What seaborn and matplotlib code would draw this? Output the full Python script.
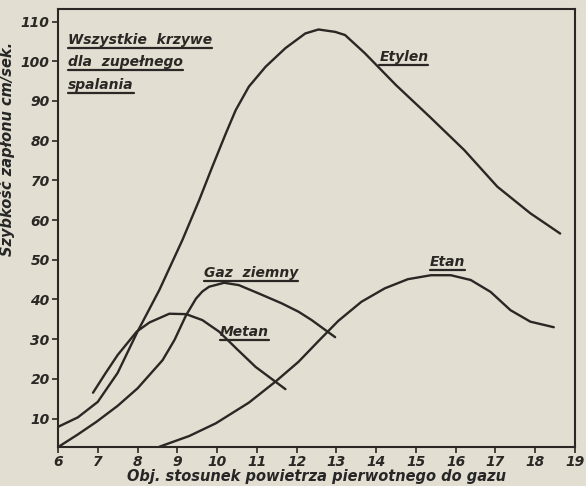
import matplotlib
matplotlib.use("Agg")
import matplotlib.pyplot as plt
import matplotlib.lines as mlines
import seaborn as sns
import pandas as pd

# ---- data ----
etylen_x = [6.0, 6.5, 7.0, 7.5, 8.0, 8.55, 9.13, 9.55, 9.88, 10.22, 10.47, 10.8, 11.22, 11.72, 12.22, 12.55, 12.97, 13.22, 13.72, 14.5, 15.35, 16.22, 17.05, 17.88, 18.63]
etylen_y = [7.9, 10.3, 14.2, 21.5, 31.9, 42.4, 55.0, 65.0, 73.4, 81.8, 87.7, 93.6, 98.6, 103.3, 107.0, 108.0, 107.4, 106.6, 102.0, 94.0, 86.0, 77.6, 68.4, 61.7, 56.6]

metan_x = [6.88, 7.2, 7.5, 7.98, 8.3, 8.8, 9.22, 9.63, 10.05, 10.5, 10.97, 11.72]
metan_y = [16.5, 21.5, 26.0, 31.9, 34.2, 36.4, 36.3, 34.8, 31.9, 27.5, 23.0, 17.4]

gaz_x = [6.0, 6.5, 6.97, 7.5, 8.0, 8.63, 8.93, 9.22, 9.47, 9.63, 9.8, 10.18, 10.55, 11.05, 11.63, 12.05, 12.38, 12.97]
gaz_y = [2.8, 6.0, 9.2, 13.2, 17.6, 24.7, 29.8, 36.0, 40.2, 42.0, 43.2, 44.2, 43.6, 41.5, 39.0, 36.9, 34.8, 30.5]

etan_x = [8.55, 9.3, 9.97, 10.8, 11.47, 12.05, 12.55, 13.05, 13.63, 14.22, 14.8, 15.38, 15.88, 16.38, 16.88, 17.38, 17.88, 18.47]
etan_y = [2.9, 5.6, 8.8, 14.0, 19.3, 24.3, 29.5, 34.6, 39.4, 42.8, 45.1, 46.1, 46.1, 44.9, 41.9, 37.3, 34.4, 33.0]

series_names = ["Etylen", "Metan", "Gaz ziemny", "Etan"]
x_ticks = list(range(6, 20))
y_ticks = list(range(10, 120, 10))

x_label = "Obj. stosunek powietrza pierwotnego do gazu"
y_label = "Szybkość zapłonu cm/sek."
note_lines = ["Wszystkie  krzywe", "dla  zupełnego", "spalania"]

# ---- build long table ----
frames = []
for name, xs, ys in zip(series_names,
                        [etylen_x, metan_x, gaz_x, etan_x],
                        [etylen_y, metan_y, gaz_y, etan_y]):
    frames.append(pd.DataFrame({"x": xs, "y": ys, "gas": name}))
df = pd.concat(frames, ignore_index=True)

# ---- style ----
sns.set_theme(style="ticks")
paper = "#e2ded1"
ink = "#2a2724"
plt.rcParams["font.family"] = ["DejaVu Sans"]
plt.rcParams["text.color"] = ink
plt.rcParams["axes.edgecolor"] = ink
plt.rcParams["xtick.color"] = ink
plt.rcParams["ytick.color"] = ink

fig = plt.figure(figsize=(5.86, 4.86), dpi=100, facecolor=paper)
ax = fig.add_axes([0.099, 0.080, 0.882, 0.901])
ax.set_facecolor(paper)

sns.lineplot(data=df, x="x", y="y", hue="gas", units="gas", estimator=None,
             sort=False, palette={n: ink for n in series_names},
             linewidth=1.7, legend=False, ax=ax)
for ln in ax.get_lines():
    ln.set_solid_joinstyle("round")
    ln.set_solid_capstyle("round")

ax.set_xlim(6, 19)
ax.set_ylim(2.8, 113.1)
ax.set_xticks(x_ticks)
ax.set_yticks(y_ticks)
tick_font = dict(fontsize=10, fontstyle="italic", fontweight="bold")
ax.set_xticklabels([str(t) for t in x_ticks], **tick_font)
ax.set_yticklabels([str(t) for t in y_ticks], **tick_font)
ax.tick_params(axis="both", direction="out", length=4, width=1.2, pad=2)
for s in ax.spines.values():
    s.set_linewidth(1.5)
    s.set_visible(True)

ax.set_xlabel(x_label, fontsize=10.5, fontstyle="italic", fontweight="bold", labelpad=0)
ax.set_ylabel(y_label, fontsize=10.5, fontstyle="italic", fontweight="bold")
ax.yaxis.set_label_coords(-0.083, 0.68)

lab = dict(fontsize=10, fontstyle="italic", fontweight="bold", color=ink)
texts = []
texts.append(ax.text(14.7, 101, "Etylen", ha="center", va="center", **lab))
texts.append(ax.text(10.85, 46.6, "Gaz  ziemny", ha="center", va="center", **lab))
texts.append(ax.text(10.68, 31.8, "Metan", ha="center", va="center", **lab))
texts.append(ax.text(15.8, 49.4, "Etan", ha="center", va="center", **lab))
for i, line in enumerate(note_lines):
    texts.append(ax.text(6.25, 105.3 - i * 5.6, line, ha="left", va="center", **lab))

# underline the labels (decorative, derived from the rendered text extents)
fig.canvas.draw()
renderer = fig.canvas.get_renderer()
inv = fig.transFigure.inverted()
for t in texts:
    bb = t.get_window_extent(renderer)
    (x0, y0), (x1, _) = inv.transform([(bb.x0, bb.y0), (bb.x1, bb.y1)])
    fig.add_artist(mlines.Line2D([x0, x1], [y0 - 0.002, y0 - 0.002],
                                 transform=fig.transFigure, color=ink, lw=1.6))

fig.savefig("out.png", dpi=100, facecolor=paper)
